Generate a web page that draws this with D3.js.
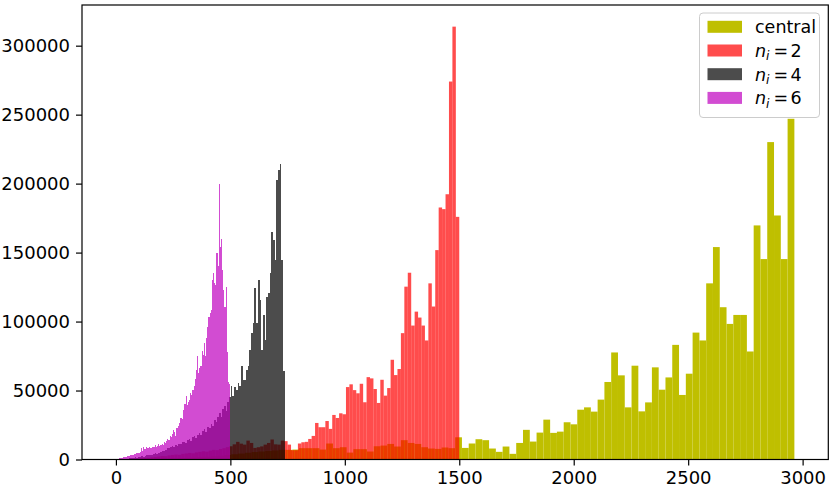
<!DOCTYPE html>
<html><head><meta charset="utf-8">
<script src="https://cdn.jsdelivr.net/npm/d3@7"></script>
<style>body{margin:0;background:#fff} svg{display:block;font-family:"DejaVu Sans",sans-serif}</style>
</head><body><svg id="c" width="830" height="489"></svg>
<script>
// ---- data (histogram counts, 100 bins each over the given range) ----
const centralRange = [0, 2964];
const centralCounts = [
  0, 0, 50, 100, 200, 300, 400, 500, 700, 900,
  1100, 1400, 1700, 2000, 2400, 2800, 3300, 3800, 4300, 4900,
  5400, 5800, 6200, 6600, 7000, 7000, 7200, 8200, 8200, 8200,
  7200, 11600, 8200, 8900, 5000, 7500, 7500, 5800, 9600, 10100,
  11300, 9400, 14000, 12000, 11300, 8900, 7950, 7700, 8700, 8200,
  16100, 8400, 11600, 14700, 14000, 7950, 5550, 9400, 4100, 12000,
  21500, 13000, 19500, 28900, 19300, 20200, 27000, 25500, 36100, 37800,
  34700, 43400, 56200, 77600, 61000, 37800, 68000, 34900, 41400, 66800,
  50600, 59500, 83100, 46800, 62200, 92000, 86300, 127700, 154000, 110400,
  98300, 104800, 104800, 78300, 169700, 145300, 230100, 176900, 145300, 247000
];
const n2Range = [0, 1500];
const n2Counts = [
  0, 0, 100, 200, 400, 500, 700, 900, 1100, 1300,
  1600, 1900, 2200, 2500, 2400, 3000, 3300, 3600, 3400, 4100,
  4400, 4800, 4500, 5200, 5600, 6000, 5700, 6500, 7000, 6800,
  7600, 8200, 9000, 9600, 11000, 12800, 11500, 10800, 13700, 12000,
  8400, 8900, 9500, 10800, 12000, 14500, 11000, 10800, 13700, 13300,
  10800, 6750, 6750, 11600, 12500, 12800, 14900, 17100, 26500, 23400,
  23400, 27900, 22200, 32300, 30100, 33500, 32800, 52500, 54500, 50300,
  48000, 54900, 41500, 59700, 58800, 51100, 41000, 57800, 46300, 51800,
  72300, 61200, 65600, 91600, 125300, 135400, 97100, 107200, 102900, 97100,
  86300, 127700, 110900, 151800, 182700, 181500, 192300, 274000, 313800, 175900
];
const n4Range = [0, 738];
const n4Counts = [
  0, 0, 100, 200, 300, 400, 600, 700, 900, 1000,
  1200, 1500, 1400, 1800, 2000, 2300, 2100, 2600, 2900, 3200,
  3500, 3300, 4000, 4400, 4100, 4800, 5200, 6000, 6500, 7200,
  8500, 8000, 9200, 9800, 9000, 10500, 10000, 11500, 11000, 12500,
  13000, 12200, 14000, 15000, 13500, 16000, 17000, 15500, 18000, 19000,
  18000, 20500, 22000, 20000, 23500, 22500, 26000, 24500, 28500, 27000,
  31000, 34000, 30500, 36500, 39000, 35000, 42000, 45000, 53000, 45800,
  52600, 50600, 55400, 53000, 67500, 57800, 57800, 65000, 67500, 79500,
  91600, 98800, 124100, 98800, 130100, 115600, 79500, 104800, 86700, 118000,
  120500, 135000, 165000, 159000, 144600, 202500, 209700, 214500, 144600, 63900
];
const n6Range = [0, 499];
const n6Counts = [
  200, 400, 600, 800, 1000, 1200, 1500, 1500, 1800, 2000,
  2400, 2600, 3000, 3400, 3000, 3600, 4000, 3800, 4500, 4800,
  5000, 5600, 8400, 6000, 8800, 7500, 9000, 8000, 8500, 9200,
  8600, 8000, 9400, 8800, 10800, 9000, 10000, 11500, 9600, 10400,
  11000, 10800, 12500, 12000, 13500, 15000, 14000, 17000, 16000, 18500,
  21700, 20000, 17000, 23000, 24000, 26500, 30000, 30000, 29000, 36000,
  40000, 45800, 39800, 42000, 43400, 48200, 47000, 50600, 53000, 58000,
  65000, 74700, 62700, 66000, 67500, 78300, 76000, 84300, 74700, 88000,
  96400, 103600, 106000, 108400, 130100, 134900, 128000, 126500, 149400, 140000,
  200000, 154200, 160000, 137400, 122900, 110900, 125000, 78000, 56000, 55000
];
const seriesLabels = ["central", "n_i = 2", "n_i = 4", "n_i = 6"];
const seriesColors = ["#bfbf00", "#ff0000", "#000000", "#bf00bf"];
const seriesAlpha = [1, 0.7, 0.7, 0.7];
const xTicks = [0, 500, 1000, 1500, 2000, 2500, 3000];
const yTicks = [0, 50000, 100000, 150000, 200000, 250000, 300000];

// ---- chart ----
const series = [
  {range: centralRange, counts: centralCounts, crisp: false},
  {range: n2Range, counts: n2Counts, crisp: false},
  {range: n4Range, counts: n4Counts, crisp: true},
  {range: n6Range, counts: n6Counts, crisp: true}
];
series.forEach((s, i) => { s.label = seriesLabels[i]; s.color = seriesColors[i]; s.alpha = seriesAlpha[i]; });

const FS = 17.5, TFS = 18;
const plot = {left: 82, right: 828.3, top: 5, bottom: 459.5};
const lo = d3.min(series, s => s.range[0]), hi = d3.max(series, s => s.range[1]);
const pad = 0.05 * (hi - lo);
const x = d3.scaleLinear().domain([lo - pad, hi + pad]).range([plot.left, plot.right]);
const ymax = d3.max(series, s => d3.max(s.counts)) * 1.05;
const y = d3.scaleLinear().domain([0, ymax]).range([plot.bottom, plot.top]);

const svg = d3.select("#c");
svg.append("rect").attr("width", 830).attr("height", 489).attr("fill", "#fff");

const gBars = svg.append("g");
series.forEach(s => {
  const n = s.counts.length, w = (s.range[1] - s.range[0]) / n;
  const bins = s.counts.map((c, i) => ({x0: s.range[0] + i * w, x1: s.range[0] + (i + 1) * w, c}));
  gBars.append("g")
    .attr("fill", s.color).attr("fill-opacity", s.alpha)
    .attr("shape-rendering", s.crisp ? "crispEdges" : "auto")
    .selectAll("rect").data(bins.filter(b => b.c > 0)).join("rect")
    .attr("x", b => x(b.x0)).attr("width", b => x(b.x1) - x(b.x0))
    .attr("y", b => y(b.c)).attr("height", b => y(0) - y(b.c));
});

// axes
const xAxis = d3.axisBottom(x).tickValues(xTicks).tickSize(6).tickPadding(6).tickFormat(d3.format("d"));
const yAxis = d3.axisLeft(y).tickValues(yTicks).tickSize(6).tickPadding(6).tickFormat(d3.format("d"));
const gx = svg.append("g").attr("transform", `translate(0,${plot.bottom})`).call(xAxis);
const gy = svg.append("g").attr("transform", `translate(${plot.left},0)`).call(yAxis);
[gx, gy].forEach(g => {
  g.select(".domain").remove();
  g.selectAll(".tick line").attr("stroke", "#000").attr("stroke-width", 1.2);
  g.selectAll(".tick text").attr("fill", "#000").style("font-size", TFS + "px").style("font-family", "DejaVu Sans");
});
gx.selectAll(".tick text").attr("dy", "0.71em");

// frame
svg.append("rect").attr("x", plot.left).attr("y", plot.top)
  .attr("width", plot.right - plot.left).attr("height", plot.bottom - plot.top)
  .attr("fill", "none").attr("stroke", "#000").attr("stroke-width", 1.2);

// legend
const lg = svg.append("g");
const lgBox = {x: 699.5, y: 13, w: 120, h: 104.5};
lg.append("rect").attr("x", lgBox.x).attr("y", lgBox.y).attr("width", lgBox.w).attr("height", lgBox.h)
  .attr("rx", 3.5).attr("fill", "#fff").attr("fill-opacity", 0.8).attr("stroke", "#cccccc").attr("stroke-width", 1);
const rowH = 23.7, row0 = 26.8;
series.forEach((s, i) => {
  const cy = row0 + i * rowH;
  lg.append("rect").attr("x", 707.5).attr("y", cy - 6).attr("width", 34.5).attr("height", 12)
    .attr("fill", s.color).attr("fill-opacity", s.alpha);
  const t = lg.append("text").attr("x", 755).attr("y", cy + 6.3).style("font-size", FS + "px").attr("fill", "#000");
  const m = s.label.match(/^(\w)_(\w)\s*=\s*(\S+)$/);
  if (m) {
    t.append("tspan").style("font-style", "italic").text(m[1]);
    t.append("tspan").style("font-style", "italic").style("font-size", (FS * 0.7) + "px").attr("dy", 3.6).text(m[2]);
    t.append("tspan").attr("x", 773.5).attr("dy", -3.6).text("=");
    t.append("tspan").attr("x", 790.5).text(m[3]);
  } else {
    t.text(s.label);
  }
});
</script></body></html>
